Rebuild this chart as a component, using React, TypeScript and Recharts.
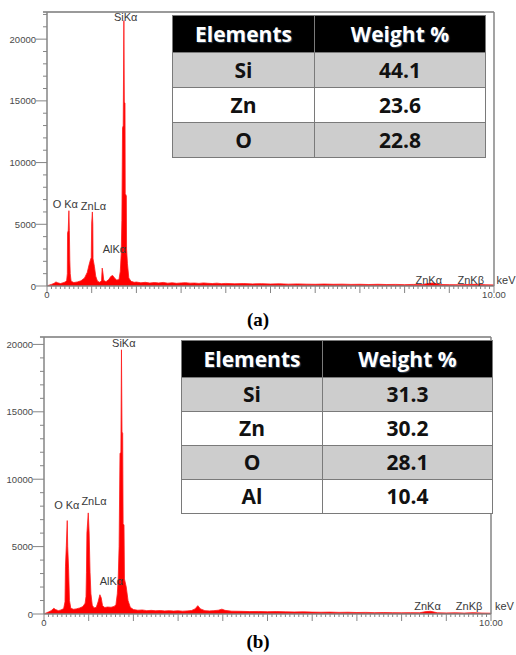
import { AreaChart, Area, XAxis, YAxis, ReferenceLine, ReferenceDot } from 'recharts';

// EDS spectrum (a): [energy keV, counts]
const spectrumA: [number, number][] = [
    [0.00, 0], [0.04, 60], [0.10, 130], [0.16, 220], [0.20, 330], [0.24, 260], [0.30, 200],
    [0.36, 260], [0.41, 330], [0.44, 450], [0.455, 1000], [0.46, 4300], [0.475, 4500], [0.49, 6100],
    [0.50, 4500], [0.51, 2100], [0.52, 1000], [0.54, 380], [0.60, 280], [0.68, 330], [0.76, 420],
    [0.84, 650], [0.90, 1100], [0.94, 1700], [0.97, 2100], [0.99, 2300], [1.00, 5100], [1.015, 6000],
    [1.025, 5000], [1.03, 2200], [1.06, 1600], [1.09, 800], [1.13, 380], [1.18, 300], [1.22, 420],
    [1.235, 1450], [1.25, 1100], [1.27, 450], [1.32, 350], [1.38, 520], [1.43, 780], [1.47, 850],
    [1.51, 650], [1.56, 480], [1.61, 520], [1.64, 1200], [1.66, 2600], [1.675, 5300], [1.69, 12800],
    [1.705, 13000], [1.72, 21500], [1.73, 14900], [1.745, 14800], [1.75, 7500], [1.775, 7300],
    [1.78, 3000], [1.80, 1800], [1.83, 650], [1.88, 380], [1.95, 300], [2.0, 320],
    [2.1, 260], [2.2, 300], [2.3, 240], [2.4, 280], [2.5, 250], [2.6, 290], [2.7, 230], [2.8, 260],
    [2.9, 220], [3.0, 250], [3.1, 270], [3.2, 230], [3.3, 240], [3.4, 210], [3.5, 250], [3.6, 220],
    [3.7, 200], [3.8, 230], [3.9, 190], [4.0, 210], [4.2, 180], [4.4, 200], [4.6, 170], [4.8, 190],
    [5.0, 160], [5.2, 180], [5.4, 150], [5.6, 170], [5.8, 150], [6.0, 140], [6.2, 160], [6.4, 140],
    [6.6, 150], [6.8, 130], [7.0, 140], [7.2, 120], [7.4, 140], [7.6, 120], [7.8, 130], [8.0, 110],
    [8.2, 130], [8.4, 120], [8.55, 220], [8.65, 240], [8.8, 120], [9.0, 110], [9.2, 100], [9.4, 120],
    [9.6, 140], [9.8, 100], [10.0, 90],
];

// EDS spectrum (b)
const spectrumB: [number, number][] = [
    [0.00, 0], [0.05, 80], [0.10, 150], [0.16, 250], [0.22, 420], [0.26, 330], [0.32, 250],
    [0.38, 300], [0.44, 400], [0.47, 900], [0.48, 3500], [0.50, 5100], [0.52, 6930], [0.53, 5000],
    [0.55, 3400], [0.57, 1000], [0.60, 420], [0.66, 350], [0.72, 380], [0.80, 450], [0.87, 550],
    [0.92, 800], [0.94, 1300], [0.95, 3100], [0.96, 6000], [0.99, 7500], [1.01, 6000], [1.03, 3100],
    [1.05, 1500], [1.08, 650], [1.12, 450], [1.17, 500], [1.21, 900], [1.25, 1430], [1.28, 1200],
    [1.31, 620], [1.36, 480], [1.42, 520], [1.50, 500], [1.57, 560], [1.61, 700], [1.64, 1500],
    [1.66, 2600], [1.68, 5000], [1.70, 11900], [1.72, 12000], [1.733, 19600], [1.745, 13500],
    [1.76, 13400], [1.77, 6700], [1.79, 6600], [1.80, 2600], [1.84, 2000], [1.88, 1000], [1.93, 500],
    [2.0, 330], [2.1, 280], [2.2, 300], [2.3, 250], [2.4, 270], [2.5, 240], [2.6, 260], [2.7, 230],
    [2.8, 250], [2.9, 220], [3.0, 240], [3.1, 210], [3.2, 230], [3.3, 260], [3.38, 380], [3.44, 620],
    [3.5, 380], [3.6, 250], [3.7, 230], [3.8, 250], [3.9, 280], [3.98, 360], [4.05, 270], [4.2, 210],
    [4.4, 200], [4.6, 180], [4.8, 190], [5.0, 170], [5.2, 180], [5.4, 160], [5.6, 150], [5.8, 160],
    [6.0, 140], [6.2, 130], [6.4, 140], [6.6, 120], [6.8, 130], [7.0, 110], [7.2, 120], [7.4, 100],
    [7.6, 110], [7.8, 100], [8.0, 90], [8.2, 100], [8.4, 90], [8.55, 180], [8.65, 200], [8.8, 90],
    [9.0, 80], [9.2, 90], [9.4, 70], [9.6, 100], [9.8, 70], [10.0, 60],
];

const yTicksA = [0, 1000, 2000, 3000, 4000, 5000, 6000, 7000, 8000, 9000, 10000, 11000, 12000,
    13000, 14000, 15000, 16000, 17000, 18000, 19000, 20000, 21000, 22000];
const yTicksB = [0, 1000, 2000, 3000, 4000, 5000, 6000, 7000, 8000, 9000, 10000, 11000, 12000,
    13000, 14000, 15000, 16000, 17000, 18000, 19000, 20000];
const xTicks = Array.from({ length: 101 }, (_, i) => i / 10);

// peak labels: [text, keV, counts] (label centre)
const peakLabelsA: [string, number, number][] = [
    ['O Kα', 0.41, 6640], ['ZnLα', 1.04, 6480], ['AlKα', 1.51, 3000], ['SiKα', 1.76, 21800],
    ['ZnKα', 8.54, 490], ['ZnKβ', 9.48, 490], ['keV', 10.27, 490],
];
const peakLabelsB: [string, number, number][] = [
    ['O Kα', 0.51, 8080], ['ZnLα', 1.12, 8400], ['AlKα', 1.51, 2420], ['SiKα', 1.785, 20070],
    ['ZnKα', 8.58, 560], ['ZnKβ', 9.51, 560], ['keV', 10.3, 560],
];

const elementsA = ['Si', 'Zn', 'O'];
const weightsA = [44.1, 23.6, 22.8];
const elementsB = ['Si', 'Zn', 'O', 'Al'];
const weightsB = [31.3, 30.2, 28.1, 10.4];

const AXIS = '#858585';
const TICK_TEXT = '#4a4a4a';
const FONT = '"Liberation Sans", Arial, sans-serif';

function YTick({ x, y, payload }: any) {
    const major = payload.value % 5000 === 0;
    return (
        <g>
            <line x1={x - (major ? 11 : 4)} x2={x} y1={y} y2={y} stroke={AXIS} />
            {major && (
                <text x={x - 11} y={y} dy={3.5} textAnchor="end" fontSize={9.5} fill={TICK_TEXT} fontFamily={FONT}>
                    {payload.value}
                </text>
            )}
        </g>
    );
}

function XTick({ x, y, payload }: any) {
    const i = Math.round(payload.value * 10);
    const len = i % 10 === 0 ? 7 : 3;
    const label = i === 0 ? '0' : i === 100 ? '10.00' : null;
    return (
        <g>
            <line x1={x} x2={x} y1={y} y2={y + len} stroke={AXIS} />
            {label && (
                <text x={x} y={y + 12} textAnchor="middle" fontSize={9.5} fill={TICK_TEXT} fontFamily={FONT}>
                    {label}
                </text>
            )}
        </g>
    );
}

function Spectrum({ data, yMax, yTicks, labels, height, margin, yAxisWidth }: any) {
    const rows = data.map(([e, c]: [number, number]) => ({ e, c }));
    return (
        <AreaChart width={516} height={height} data={rows} margin={margin}>
            <XAxis
                dataKey="e"
                type="number"
                domain={[0, 10]}
                ticks={xTicks}
                interval={0}
                tick={(p: any) => <XTick {...p} />}
                tickLine={false}
                tickSize={0}
                tickMargin={0}
                height={24}
                axisLine={{ stroke: AXIS, strokeWidth: 1.5 }}
                allowDataOverflow
            />
            <YAxis
                type="number"
                domain={[0, yMax]}
                ticks={yTicks}
                interval={0}
                tick={(p: any) => <YTick {...p} />}
                tickLine={false}
                tickSize={0}
                tickMargin={0}
                width={yAxisWidth}
                axisLine={{ stroke: AXIS, strokeWidth: 1.5 }}
                allowDataOverflow
            />
            <ReferenceLine
                stroke="#9a9a9a"
                strokeWidth={2}
                segment={[{ x: -0.09, y: yMax }, { x: 10, y: yMax }]}
                ifOverflow="visible"
            />
            <ReferenceLine x={10} stroke={AXIS} strokeWidth={1.5} />
            <Area
                dataKey="c"
                type="linear"
                stroke="#ff1a1a"
                strokeWidth={0.8}
                fill="#ff0000"
                fillOpacity={1}
                dot={false}
                activeDot={false}
                isAnimationActive={false}
            />
            {labels.map(([name, e, c]: [string, number, number]) => (
                <ReferenceDot
                    key={name}
                    x={e}
                    y={c}
                    r={0}
                    ifOverflow="visible"
                    label={{ value: name, position: 'center', fontSize: 11, fill: '#3a3a3a', fontFamily: FONT }}
                />
            ))}
        </AreaChart>
    );
}

function ElementTable({ elements, weights, left, top, widths, headerHeight, rowHeight }: any) {
    const cell = { padding: 0, textAlign: 'center' as const, border: '1px solid #7a7a7a', lineHeight: 1 };
    return (
        <table
            style={{
                position: 'absolute', left, top, borderCollapse: 'collapse', tableLayout: 'fixed',
                width: widths[0] + widths[1], fontFamily: '"Open Sans", sans-serif', fontWeight: 700, fontSize: 21,
            }}
        >
            <colgroup>
                <col style={{ width: widths[0] }} />
                <col style={{ width: widths[1] }} />
            </colgroup>
            <thead>
                <tr style={{ height: headerHeight, background: '#000', color: '#fff', textShadow: '1px 1px 1px #345' }}>
                    <th style={cell}>Elements</th>
                    <th style={cell}>Weight %</th>
                </tr>
            </thead>
            <tbody>
                {elements.map((el: string, i: number) => (
                    <tr key={el} style={{ height: rowHeight, background: i % 2 === 0 ? '#cdcdcd' : '#fff', color: '#111' }}>
                        <td style={cell}>{el}</td>
                        <td style={cell}>{weights[i].toFixed(1)}</td>
                    </tr>
                ))}
            </tbody>
        </table>
    );
}

function Caption({ top, text }: { top: number; text: string }) {
    return (
        <div
            style={{
                position: 'absolute', left: 0, top, width: 516, textAlign: 'center', lineHeight: '22px',
                fontFamily: '"Liberation Serif", "Times New Roman", serif', fontWeight: 700, fontSize: 19,
            }}
        >
            {text}
        </div>
    );
}

export default function App() {
    return (
        <div style={{ position: 'relative', width: 516, height: 655, background: '#fff', overflow: 'hidden' }}>
            <style>{'body{margin:0}'}</style>
            <div style={{ position: 'absolute', left: 0, top: 0 }}>
                <Spectrum
                    data={spectrumA}
                    yMax={22200}
                    yTicks={yTicksA}
                    labels={peakLabelsA}
                    height={310}
                    margin={{ top: 12, right: 22, bottom: 0, left: 0 }}
                    yAxisWidth={47}
                />
            </div>
            <ElementTable elements={elementsA} weights={weightsA} left={172} top={15} widths={[142, 171]} headerHeight={37} rowHeight={35} />
            <Caption top={309} text="(a)" />
            <div style={{ position: 'absolute', left: 0, top: 325 }}>
                <Spectrum
                    data={spectrumB}
                    yMax={20550}
                    yTicks={yTicksB}
                    labels={peakLabelsB}
                    height={313}
                    margin={{ top: 12, right: 25, bottom: 0, left: 0 }}
                    yAxisWidth={44}
                />
            </div>
            <ElementTable elements={elementsB} weights={weightsB} left={181} top={340} widths={[141, 170]} headerHeight={37} rowHeight={34} />
            <Caption top={631} text="(b)" />
        </div>
    );
}
